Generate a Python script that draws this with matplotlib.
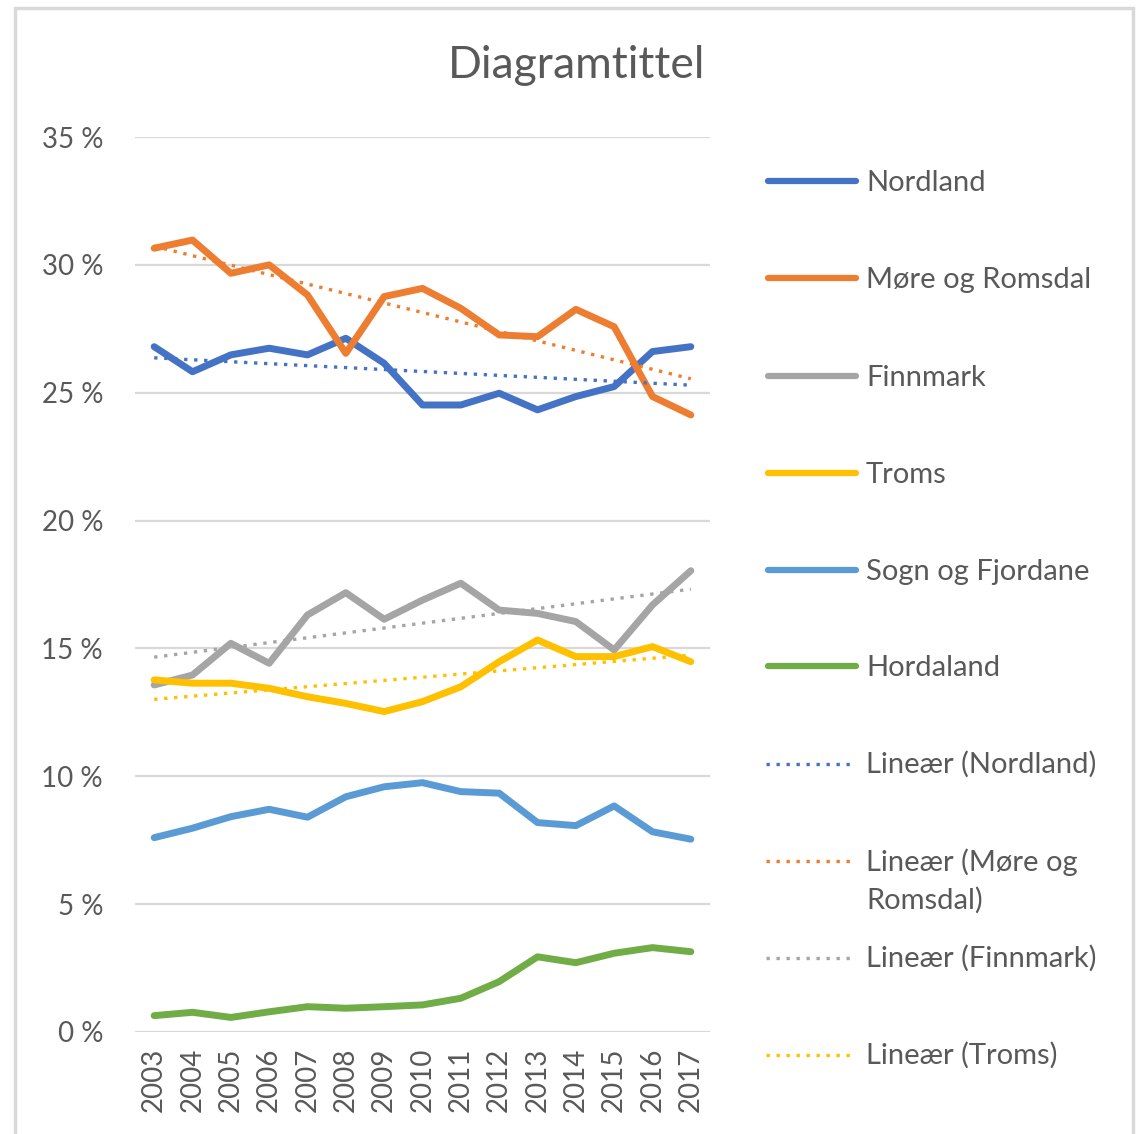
import matplotlib.pyplot as plt
import numpy as np
from matplotlib.lines import Line2D
from matplotlib.patches import Rectangle

plt.rcParams['font.family'] = ['Lato', 'DejaVu Sans']

aar = ["2003", "2004", "2005", "2006", "2007", "2008", "2009", "2010",
       "2011", "2012", "2013", "2014", "2015", "2016", "2017"]

nordland = [26.80, 25.82, 26.48, 26.74, 26.48, 27.13, 26.15, 24.52,
            24.52, 24.98, 24.33, 24.85, 25.24, 26.61, 26.80]
more_og_romsdal = [30.65, 30.97, 29.67, 30.00, 28.82, 26.54, 28.76, 29.08,
                   28.30, 27.26, 27.19, 28.26, 27.58, 24.85, 24.13]
finnmark = [13.57, 13.96, 15.20, 14.42, 16.31, 17.18, 16.14, 16.89,
            17.55, 16.50, 16.37, 16.05, 14.94, 16.70, 18.04]
troms = [13.77, 13.64, 13.64, 13.44, 13.11, 12.85, 12.53, 12.92,
         13.50, 14.48, 15.33, 14.68, 14.68, 15.07, 14.48]
sogn_og_fjordane = [7.60, 7.97, 8.42, 8.71, 8.40, 9.20, 9.59, 9.75,
                    9.40, 9.34, 8.19, 8.07, 8.84, 7.83, 7.54]
hordaland = [0.64, 0.77, 0.57, 0.79, 0.99, 0.93, 0.99, 1.06,
             1.32, 1.97, 2.94, 2.71, 3.08, 3.30, 3.14]

fylker = ["Nordland", "Møre og Romsdal", "Finnmark", "Troms", "Sogn og Fjordane", "Hordaland"]
serier = [nordland, more_og_romsdal, finnmark, troms, sogn_og_fjordane, hordaland]
farger = ["#4472C4", "#ED7D31", "#A5A5A5", "#FFC000", "#5B9BD5", "#70AD47"]
# trendlinjer bare for de fire forste
antall_trend = 4
trend_labels = ["Lineær (Nordland)", "Lineær (Møre og\nRomsdal)", "Lineær (Finnmark)", "Lineær (Troms)"]

tekstfarge = "#595959"
B, H = 1147, 1134

fig = plt.figure(figsize=(B / 100, H / 100), dpi=100)
ax = fig.add_axes([135 / B, 1 - 1032 / H, 575 / B, 895 / H])

x = np.arange(len(aar))
for i in range(len(serier)):
    ax.plot(x, serier[i], color=farger[i], lw=5, solid_capstyle='round',
            solid_joinstyle='round', zorder=3)

for i in range(antall_trend):
    k = np.polyfit(x, serier[i], 1)
    ax.plot(x, np.polyval(k, x), color=farger[i], lw=2.4, linestyle=(0, (1, 2)), zorder=4)

ax.set_xlim(-0.5, len(aar) - 0.5)
ax.set_ylim(0, 35)
ax.set_yticks(np.arange(0, 36, 5))
ax.set_yticklabels([f"{v} %" for v in range(0, 36, 5)])
ax.set_xticks(x)
ax.set_xticklabels(aar, rotation=90)
ax.tick_params(axis='y', length=0, pad=23, labelsize=20, labelcolor=tekstfarge)
ax.tick_params(axis='x', length=0, pad=11, labelsize=20, labelcolor=tekstfarge)
ax.grid(axis='y', color="#D9D9D9", lw=1.6)
ax.set_axisbelow(True)
for s in ax.spines.values():
    s.set_visible(False)

fig.text(577 / B, 1 - 65 / H, "Diagramtittel", ha='center', va='center',
         fontsize=32, color=tekstfarge)

# legende til hoyre
rader = [181, 278, 376, 473, 570, 666, 764, 861, 958, 1055]
for i in range(len(fylker)):
    y = 1 - rader[i] / H
    fig.add_artist(Line2D([768 / B, 856 / B], [y, y], color=farger[i], lw=4.5,
                          solid_capstyle='round'))
    fig.text(866 / B, y - 2 / H, fylker[i], ha='left', va='center', fontsize=21, color=tekstfarge)
for i in range(antall_trend):
    y = 1 - rader[len(fylker) + i] / H
    fig.add_artist(Line2D([766 / B, 850 / B], [y, y], color=farger[i], lw=2.4,
                          linestyle=(0, (1, 2))))
    fig.text(866 / B, y + 13 / H, trend_labels[i], ha='left', va='top', fontsize=21,
             color=tekstfarge, linespacing=1.5)

fig.add_artist(Rectangle((15 / B, -0.1), 1118 / B, 1.093, transform=fig.transFigure,
                         fill=False, edgecolor="#D9D9D9", lw=2.5))

fig.savefig("out.png", dpi=100, facecolor="white")
